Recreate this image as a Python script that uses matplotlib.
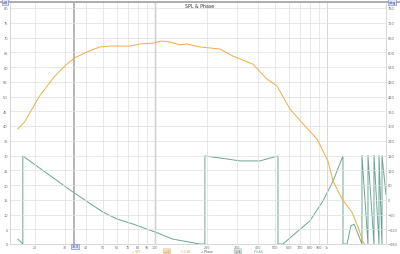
import numpy as np
import matplotlib
matplotlib.use('Agg')
import matplotlib.pyplot as plt
from matplotlib.lines import Line2D

# SPL trace (Hz, dB)
spl_freq = [16.0, 17.5, 21.4, 26.2, 30.8, 34.3, 40.3, 47.9, 54.7, 71.6, 81.8, 97.4,
            109.8, 122.2, 139.8, 153.5, 182.6, 238.6, 284, 371, 448, 512, 609, 745,
            875, 1014, 1084, 1222, 1397, 1514, 1620, 1785]
spl_db = [39.0, 41.4, 50.2, 56.9, 61.0, 63.1, 65.1, 66.8, 67.1, 67.1, 67.8, 68.1,
          68.8, 68.5, 67.5, 67.8, 66.8, 66.1, 63.7, 61.0, 55.9, 53.6, 45.8, 40.0,
          35.6, 28.1, 21.4, 15.3, 10.8, 5.8, 0.7, -3.0]

# wrapped phase trace (Hz, deg)
ph_freq = [16.0, 17.1, 17.1, 33.4, 49.8, 60.1, 74.5, 100, 127, 182.6, 195.3, 195.3,
           262, 312, 408, 448, 519, 519, 555, 669, 796, 948, 1084, 1239, 1239,
           1307, 1380, 1440, 1597, 1597, 1731, 1731, 1876, 1876, 2006, 2006, 2088,
           2088, 2203]
ph_deg = [-160, -180, 178, 31.5, -49.8, -78, -98.6, -131, -160, -180, -180, 178,
          166, 158, 158, 166, 178, -180, -180, -131, -86, -5, 76, 178, -180,
          -180, -105, -100, -180, 180, -180, 180, -180, 180, -180, 180, -180,
          180, 20]

freq_ticks = [20, 30, 40, 50, 60, 70, 80, 90, 100, 200, 300, 400, 500, 600, 700,
              800, 900, 1000]
freq_labels = ['20', '30', '40', '50', '60', '70', '80', '90', '100', '200', '300',
               '400', '500', '600', '700', '800', '900', '1k']
db_ticks = list(range(0, 85, 5))
deg_ticks = list(range(-180, 781, 60))

cursor_freq = 33.8

W, H = 400, 255
fig = plt.figure(figsize=(W / 100, H / 100), dpi=100)
fig.patch.set_facecolor('white')

# plot area: x 10..386 px, y 4..245 px
ax = fig.add_axes([10 / W, 10 / H, 376 / W, 241 / H])
ax.set_xscale('log')
ax.set_xlim(14.4, 2203)
ax.set_ylim(0, 0 + 241 / 14.75 * 5)

ax.set_xticks(freq_ticks)
ax.set_xticklabels(freq_labels)
ax.xaxis.set_minor_locator(matplotlib.ticker.NullLocator())
ax.set_yticks(db_ticks)
ax.grid(True, color='#dedede', lw=0.5)
ax.axvline(100, color='#b8b8b8', lw=1.0, zorder=1)
ax.axvline(1000, color='#cccccc', lw=0.7, zorder=1)
ax.axvline(cursor_freq, color='#a8a8a8', lw=1.2, zorder=1)
ax.tick_params(axis='y', length=0, labelsize=2.6, colors='#707070', pad=1.5)
ax.tick_params(axis='x', length=0, labelsize=2.4, colors='#707070', pad=0.4)
for s in ax.spines.values():
    s.set_color('#c8c8c8')
    s.set_linewidth(0.5)
ax.spines['top'].set_visible(False)

ax2 = ax.twinx()
ax2.set_ylim(-180, -180 + 241 / 14.75 * 60)
ax2.set_yticks(deg_ticks)
ax2.tick_params(length=0, labelsize=2.6, colors='#707070', pad=1.5)
for s in ax2.spines.values():
    s.set_visible(False)

ax2.plot(ph_freq, ph_deg, color='#6aa596', lw=0.7, zorder=3)
ax.plot(spl_freq, spl_db, color='#f0ac45', lw=0.7, zorder=4)
ax.set_zorder(ax2.get_zorder() + 1)
ax.patch.set_visible(False)

# header bar and title
fig.add_artist(Line2D([0, 1], [1 - 3 / H, 1 - 3 / H], color='#a0a0a0', lw=1.2))
fig.text(0.5, 1 - 6.5 / H, 'SPL & Phase', ha='center', va='center', fontsize=3.4,
         color='#333333')
box = dict(boxstyle='square,pad=0.15', fc='#dfe3f5', ec='#6f7ccc', lw=0.4)
fig.text(5 / W, 1 - 3 / H, 'dB', ha='center', va='center', fontsize=2.8,
         color='#3344aa', bbox=box)
fig.text(392 / W, 1 - 3 / H, 'deg', ha='center', va='center', fontsize=2.8,
         color='#3344aa', bbox=box)
fig.text(75 / W, 1 - 247.3 / H, f'{cursor_freq:.1f}', ha='center', va='center',
         fontsize=2.3, color='#3344aa', bbox=box)

# legend row
leg_y = 1 - 252.2 / H
fs = 2.1
fig.text(136 / W, leg_y, '✓ SPL', ha='center', va='center', fontsize=fs, color='#d99a3a')
fig.text(167 / W, leg_y, '1/48', ha='center', va='center', fontsize=fs, color='#b07a20',
         bbox=dict(boxstyle='round,pad=0.12', fc='#fff3dc', ec='#e0b060', lw=0.4))
fig.text(186 / W, leg_y, '0.0 dB', ha='center', va='center', fontsize=fs, color='#e0a850')
fig.text(207 / W, leg_y, '✓ Phase', ha='center', va='center', fontsize=fs, color='#555555')
fig.text(238 / W, leg_y, '1/48', ha='center', va='center', fontsize=fs, color='#555555',
         bbox=dict(boxstyle='round,pad=0.12', fc='#eef3f2', ec='#9ab8b0', lw=0.4))
fig.text(259 / W, leg_y, 'Ph Adj', ha='center', va='center', fontsize=fs, color='#6aa596')

fig.savefig('out.png', dpi=100)
